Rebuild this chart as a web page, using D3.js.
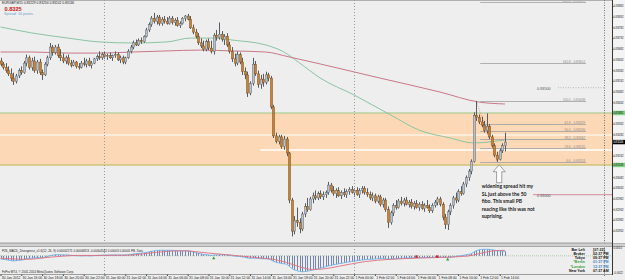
<!DOCTYPE html>
<html><head><meta charset="utf-8">
<script src="https://cdn.jsdelivr.net/npm/d3@7/dist/d3.min.js"></script>
<style>html,body{margin:0;padding:0;background:#eeeeee;}svg{display:block;}</style>
</head><body>
<svg id="c" width="625" height="280"></svg>
<script>
// ---------- DATA (EURGBP, M15) ----------
const timeLabels = ["30 Jan 2012","30 Jan 16:00","30 Jan 18:00","30 Jan 20:00","30 Jan 22:00","31 Jan 00:00","31 Jan 02:00","31 Jan 04:00","31 Jan 06:00","31 Jan 08:00","31 Jan 10:00","31 Jan 12:00","31 Jan 14:00","31 Jan 16:00","31 Jan 18:00","31 Jan 20:00","31 Jan 22:00","1 Feb 00:00","1 Feb 02:00","1 Feb 04:00","1 Feb 06:00","1 Feb 08:00","1 Feb 10:00","1 Feb 12:00","1 Feb 14:00"];
const timeLabelBars = [0,8,16,24,32,40,48,56,64,72,80,88,96,104,112,120,128,136,144,152,160,168,176,184,192];
const daySeparatorBars = [40,136];
const open = [0.83625,0.83610,0.83595,0.83580,0.83565,0.83545,0.83530,0.83555,0.83580,0.83570,
0.83615,0.83640,0.83595,0.83625,0.83580,0.83620,0.83570,0.83560,0.83610,0.83640,
0.83690,0.83665,0.83690,0.83650,0.83640,0.83625,0.83640,0.83615,0.83605,0.83620,
0.83600,0.83595,0.83615,0.83610,0.83625,0.83605,0.83615,0.83635,0.83645,0.83640,
0.83655,0.83645,0.83650,0.83640,0.83650,0.83655,0.83630,0.83640,0.83620,0.83640,
0.83670,0.83690,0.83710,0.83700,0.83720,0.83715,0.83740,0.83770,0.83795,0.83825,
0.83810,0.83830,0.83800,0.83820,0.83810,0.83800,0.83825,0.83805,0.83815,0.83790,
0.83800,0.83825,0.83835,0.83820,0.83780,0.83760,0.83740,0.83710,0.83695,0.83680,
0.83715,0.83685,0.83670,0.83745,0.83735,0.83750,0.83725,0.83740,0.83700,0.83670,
0.83635,0.83615,0.83655,0.83620,0.83575,0.83560,0.83475,0.83520,0.83610,0.83565,
0.83515,0.83540,0.83525,0.83560,0.83545,0.83410,0.83275,0.83250,0.83270,0.83225,
0.83260,0.83195,0.82975,0.82830,0.82880,0.82870,0.82840,0.82910,0.82945,0.82930,
0.82980,0.82995,0.82985,0.83005,0.82990,0.83000,0.83010,0.83045,0.83020,0.83005,
0.83020,0.82995,0.83010,0.83000,0.83015,0.83025,0.83010,0.83020,0.83000,0.83020,
0.83030,0.83010,0.83000,0.82985,0.82995,0.82970,0.82990,0.82955,0.82975,0.82930,
0.82870,0.82915,0.82950,0.82940,0.82970,0.82960,0.82975,0.82955,0.82965,0.82945,
0.82960,0.82940,0.82955,0.82935,0.82950,0.82940,0.82925,0.82950,0.82965,0.82980,
0.82955,0.82895,0.82860,0.82920,0.82950,0.82985,0.82975,0.83015,0.83005,0.83050,
0.83080,0.83110,0.83155,0.83370,0.83360,0.83340,0.83325,0.83300,0.83320,0.83270,
0.83230,0.83185,0.83165,0.83205,0.83229];
const high = [0.83640,0.83620,0.83615,0.83600,0.83590,0.83570,0.83565,0.83590,0.83600,0.83625,
0.83655,0.83650,0.83640,0.83645,0.83630,0.83635,0.83585,0.83620,0.83650,0.83709,
0.83700,0.83700,0.83705,0.83680,0.83660,0.83650,0.83655,0.83630,0.83630,0.83625,
0.83615,0.83625,0.83640,0.83635,0.83640,0.83625,0.83640,0.83655,0.83670,0.83665,
0.83670,0.83660,0.83665,0.83655,0.83670,0.83665,0.83650,0.83650,0.83645,0.83680,
0.83700,0.83720,0.83725,0.83730,0.83735,0.83745,0.83780,0.83805,0.83835,0.83850,
0.83840,0.83840,0.83830,0.83835,0.83830,0.83835,0.83835,0.83825,0.83830,0.83810,
0.83830,0.83840,0.83845,0.83835,0.83795,0.83775,0.83755,0.83730,0.83720,0.83725,
0.83730,0.83720,0.83755,0.83770,0.83805,0.83765,0.83750,0.83755,0.83715,0.83690,
0.83660,0.83670,0.83665,0.83640,0.83595,0.83575,0.83530,0.83640,0.83625,0.83580,
0.83560,0.83565,0.83575,0.83570,0.83555,0.83420,0.83290,0.83280,0.83280,0.83275,
0.83270,0.83200,0.82985,0.82900,0.82940,0.82890,0.82920,0.82960,0.82985,0.82990,
0.83010,0.83020,0.83015,0.83020,0.83015,0.83020,0.83060,0.83055,0.83040,0.83030,
0.83035,0.83020,0.83030,0.83025,0.83035,0.83040,0.83030,0.83035,0.83030,0.83040,
0.83040,0.83030,0.83015,0.83010,0.83005,0.83000,0.83000,0.82985,0.82985,0.82945,
0.82925,0.82960,0.82975,0.82980,0.82990,0.82985,0.82990,0.82975,0.82980,0.82970,
0.82975,0.82965,0.82970,0.82960,0.82975,0.82955,0.82960,0.82975,0.82990,0.82990,
0.82965,0.82910,0.82930,0.82960,0.82995,0.83010,0.83025,0.83040,0.83060,0.83090,
0.83120,0.83165,0.83385,0.83438,0.83375,0.83365,0.83345,0.83380,0.83330,0.83280,
0.83240,0.83200,0.83215,0.83240,0.83290];
const low = [0.83600,0.83585,0.83570,0.83555,0.83530,0.83513,0.83520,0.83545,0.83560,0.83565,
0.83600,0.83585,0.83580,0.83570,0.83565,0.83560,0.83536,0.83555,0.83600,0.83630,
0.83650,0.83655,0.83640,0.83625,0.83615,0.83610,0.83605,0.83595,0.83600,0.83590,
0.83585,0.83590,0.83600,0.83595,0.83600,0.83590,0.83610,0.83625,0.83630,0.83630,
0.83635,0.83630,0.83635,0.83625,0.83640,0.83625,0.83615,0.83610,0.83610,0.83635,
0.83660,0.83680,0.83695,0.83695,0.83705,0.83710,0.83735,0.83760,0.83785,0.83800,
0.83795,0.83790,0.83790,0.83800,0.83795,0.83795,0.83795,0.83790,0.83785,0.83780,
0.83795,0.83810,0.83815,0.83775,0.83750,0.83730,0.83700,0.83685,0.83670,0.83670,
0.83675,0.83660,0.83655,0.83720,0.83725,0.83715,0.83700,0.83690,0.83660,0.83620,
0.83600,0.83605,0.83610,0.83560,0.83540,0.83457,0.83465,0.83510,0.83555,0.83500,
0.83495,0.83505,0.83515,0.83530,0.83400,0.83265,0.83240,0.83235,0.83215,0.83210,
0.83180,0.82960,0.82805,0.82815,0.82850,0.82820,0.82830,0.82895,0.82920,0.82925,
0.82960,0.82975,0.82975,0.82980,0.82975,0.82985,0.83000,0.83010,0.82995,0.82985,
0.82990,0.82980,0.82990,0.82985,0.83000,0.83005,0.82990,0.82995,0.82985,0.83005,
0.83000,0.82990,0.82975,0.82970,0.82960,0.82960,0.82945,0.82940,0.82920,0.82845,
0.82860,0.82900,0.82930,0.82935,0.82950,0.82945,0.82950,0.82940,0.82935,0.82930,
0.82935,0.82925,0.82930,0.82920,0.82935,0.82915,0.82915,0.82940,0.82950,0.82945,
0.82880,0.82840,0.82835,0.82905,0.82935,0.82960,0.82965,0.82995,0.83000,0.83035,
0.83065,0.83095,0.83150,0.83345,0.83330,0.83315,0.83290,0.83285,0.83260,0.83220,
0.83175,0.83153,0.83160,0.83195,0.83202];
const close = [0.83610,0.83595,0.83580,0.83565,0.83545,0.83530,0.83555,0.83580,0.83570,0.83615,
0.83640,0.83595,0.83625,0.83580,0.83620,0.83570,0.83560,0.83610,0.83640,0.83690,
0.83665,0.83690,0.83650,0.83640,0.83625,0.83640,0.83615,0.83605,0.83620,0.83600,
0.83595,0.83615,0.83610,0.83625,0.83605,0.83615,0.83635,0.83645,0.83640,0.83655,
0.83645,0.83650,0.83640,0.83650,0.83655,0.83630,0.83640,0.83620,0.83640,0.83670,
0.83690,0.83710,0.83700,0.83720,0.83715,0.83740,0.83770,0.83795,0.83825,0.83810,
0.83830,0.83800,0.83820,0.83810,0.83800,0.83825,0.83805,0.83815,0.83790,0.83800,
0.83825,0.83835,0.83820,0.83780,0.83760,0.83740,0.83710,0.83695,0.83680,0.83715,
0.83685,0.83670,0.83745,0.83735,0.83750,0.83725,0.83740,0.83700,0.83670,0.83635,
0.83615,0.83655,0.83620,0.83575,0.83560,0.83475,0.83520,0.83610,0.83565,0.83515,
0.83540,0.83525,0.83560,0.83545,0.83410,0.83275,0.83250,0.83270,0.83225,0.83260,
0.83195,0.82975,0.82830,0.82880,0.82870,0.82840,0.82910,0.82945,0.82930,0.82980,
0.82995,0.82985,0.83005,0.82990,0.83000,0.83010,0.83045,0.83020,0.83005,0.83020,
0.82995,0.83010,0.83000,0.83015,0.83025,0.83010,0.83020,0.83000,0.83020,0.83030,
0.83010,0.83000,0.82985,0.82995,0.82970,0.82990,0.82955,0.82975,0.82930,0.82870,
0.82915,0.82950,0.82940,0.82970,0.82960,0.82975,0.82955,0.82965,0.82945,0.82960,
0.82940,0.82955,0.82935,0.82950,0.82940,0.82925,0.82950,0.82965,0.82980,0.82955,
0.82895,0.82860,0.82920,0.82950,0.82985,0.82975,0.83015,0.83005,0.83050,0.83080,
0.83110,0.83155,0.83370,0.83360,0.83340,0.83325,0.83300,0.83320,0.83270,0.83230,
0.83185,0.83165,0.83205,0.83229,0.83246];
// moving averages (read at sampled bars)
const maGreenBars = [0,12,26,38,51,64,73,83,89,102,109,115,123,136,150,161,173,182,194];
const maGreenVals = [0.83784,0.83756,0.83732,0.83714,0.83709,0.83714,0.83732,0.83732,0.83723,0.83700,0.83667,0.83616,0.83545,0.83466,0.83373,0.83302,0.83265,0.83242,0.83256];
const maRedBars = [0,12,26,38,51,64,77,89,102,111,123,146,169,184,194];
const maRedVals = [0.83667,0.83667,0.83662,0.83662,0.83667,0.83672,0.83676,0.83672,0.83667,0.83644,0.83611,0.83545,0.83480,0.83433,0.83424];
// price axis
const priceTicks = [0.83882,0.83832,0.83782,0.83732,0.83682,0.83632,0.83582,0.83532,0.83482,0.83432,0.83332,0.83282,0.83182,0.83082,0.83032,0.82982,0.82932,0.82882,0.82832];
// drawn objects
const bandTop = 0.83382, bandBottom = 0.83139;
const whiteLineA = 0.83279, whiteLineB = 0.83209, whiteLineBStartBar = 100;
const fibLevels = ["0.0","23.6","38.2","50.0","61.8","100.0","161.8","261.8"];
const fibPrices = [0.83153,0.83220,0.83262,0.83296,0.83329,0.83438,0.83614,0.83899];
const fibStartBar = 184.5, fibAnchorHighBar = 183, fibAnchorLowBar = 191;
const hLine835 = 0.83500, hLine830 = 0.83000;
const bidPrice = 0.83246;
const vLineBar = 232;
// MACD indicator
const macdHist = [-0.00040,-0.00045,-0.00050,-0.00055,-0.00060,-0.00065,-0.00062,-0.00058,-0.00055,-0.00048,
-0.00038,-0.00035,-0.00030,-0.00028,-0.00022,-0.00022,-0.00025,-0.00018,-0.00010,0.00002,
0.00008,0.00014,0.00015,0.00014,0.00012,0.00012,0.00010,0.00007,0.00004,0.00002,
0.00000,0.00000,0.00000,0.00001,0.00000,0.00000,0.00002,0.00004,0.00006,0.00008,
0.00009,0.00010,0.00010,0.00011,0.00012,0.00011,0.00010,0.00009,0.00009,0.00012,
0.00017,0.00023,0.00027,0.00031,0.00034,0.00038,0.00043,0.00050,0.00058,0.00063,
0.00068,0.00070,0.00071,0.00072,0.00071,0.00071,0.00070,0.00069,0.00066,0.00064,
0.00063,0.00064,0.00063,0.00058,0.00050,0.00042,0.00034,0.00026,0.00018,0.00014,
0.00010,0.00006,0.00008,0.00010,0.00013,0.00014,0.00014,0.00012,0.00008,0.00002,
-0.00004,-0.00006,-0.00009,-0.00014,-0.00019,-0.00028,-0.00032,-0.00030,-0.00031,-0.00034,
-0.00036,-0.00038,-0.00038,-0.00040,-0.00052,-0.00070,-0.00082,-0.00090,-0.00098,-0.00102,
-0.00108,-0.00130,-0.00162,-0.00180,-0.00190,-0.00200,-0.00204,-0.00202,-0.00196,-0.00190,
-0.00182,-0.00175,-0.00166,-0.00158,-0.00150,-0.00142,-0.00130,-0.00122,-0.00116,-0.00108,
-0.00102,-0.00096,-0.00090,-0.00084,-0.00078,-0.00072,-0.00068,-0.00063,-0.00058,-0.00054,
-0.00050,-0.00047,-0.00045,-0.00043,-0.00040,-0.00038,-0.00037,-0.00035,-0.00036,-0.00042,
-0.00042,-0.00040,-0.00038,-0.00035,-0.00032,-0.00030,-0.00028,-0.00027,-0.00026,-0.00025,
-0.00024,-0.00024,-0.00023,-0.00022,-0.00022,-0.00022,-0.00020,-0.00018,-0.00015,-0.00014,
-0.00018,-0.00022,-0.00022,-0.00018,-0.00013,-0.00008,-0.00003,0.00001,0.00006,0.00012,
0.00018,0.00026,0.00048,0.00066,0.00076,0.00082,0.00084,0.00084,0.00082,0.00078,
0.00072,0.00066,0.00062,0.00060,0.00058];
const signalBars = [0,10,20,30,40,50,60,70,80,90,100,105,110,115,120,125,130,140,150,160,170,180,185,190,194];
const signalVals = [-0.00030,-0.00045,-0.00015,0.00005,0.00005,0.00010,0.00045,0.00065,0.00035,0.00005,-0.00028,-0.00045,-0.00085,-0.00140,-0.00175,-0.00165,-0.00135,-0.00075,-0.00045,-0.00030,-0.00020,-0.00002,0.00035,0.00065,0.00070];
const divMarkBars = [82,160,168,172];
const divMarkVals = [-0.00030,-0.00010,-0.00010,-0.00045];
const divMarkKind = ["bull","bear","bear","bull"];
const indTicks = [0.0010,-0.0022];
const infoLabels = ["Bar Left","Broker","Tokyo","*Berlin","*London","New York"];
const infoValues = ["[07:22]","02:37 PM","09:37 PM","01:37 PM","12:37 PM","07:37 AM"];
const infoColors = ["#111","#111","#111","#3aa03a","#3aa03a","#111"];
const infoValColors = ["#111","#111","#111","#3b7fc4","#3b7fc4","#111"];
const noteLines = ["widening spread hit my","SL just above the 50","fibo. This small PB","reacing like this was not","suprising."];

// ---------- DRAW ----------
const W = 625, H = 280, RIGHT = 612, MAIN_BOTTOM = 243;
const svg = d3.select("#c");
const x = d3.scaleLinear().domain([0, 194]).range([0.5, 504.9]);
const y = d3.scaleLinear().domain([0.82807, 0.83910]).range([236, 0]);
const yi = d3.scaleLinear().domain([-0.0022, 0.0010]).range([273, 248]);
const font = "'Liberation Sans', Arial, sans-serif";

svg.append("rect").attr("width", W).attr("height", H).attr("fill", "#eeeeee");
svg.append("defs").append("clipPath").attr("id", "mainClip").append("rect")
  .attr("x", 0).attr("y", 0).attr("width", RIGHT).attr("height", MAIN_BOTTOM);
const main = svg.append("g").attr("clip-path", "url(#mainClip)");

// orange zone
main.append("rect").attr("x", 0).attr("width", RIGHT)
  .attr("y", y(bandTop)).attr("height", y(bandBottom) - y(bandTop)).attr("fill", "#fcd8b6");
main.append("line").attr("x1", 0).attr("x2", RIGHT).attr("y1", y(bandTop)).attr("y2", y(bandTop))
  .attr("stroke", "#9cc88a").attr("stroke-width", 1);
main.append("line").attr("x1", 0).attr("x2", RIGHT).attr("y1", y(bandBottom)).attr("y2", y(bandBottom))
  .attr("stroke", "#cfc47a").attr("stroke-width", 1.5);
main.append("line").attr("x1", 0).attr("x2", RIGHT).attr("y1", y(whiteLineA)).attr("y2", y(whiteLineA))
  .attr("stroke", "#ffffff").attr("stroke-width", 1);
main.append("line").attr("x1", x(whiteLineBStartBar)).attr("x2", RIGHT).attr("y1", y(whiteLineB)).attr("y2", y(whiteLineB))
  .attr("stroke", "#ffffff").attr("stroke-width", 1.6);

// top border
svg.append("line").attr("x1", 0).attr("x2", RIGHT).attr("y1", 0.5).attr("y2", 0.5).attr("stroke", "#b0b0b0");

// day separators
daySeparatorBars.forEach(b => {
  svg.append("line").attr("x1", Math.round(x(b)) + 0.5).attr("x2", Math.round(x(b)) + 0.5)
    .attr("y1", 0).attr("y2", 274).attr("stroke", "#9a9a9a").attr("stroke-dasharray", "1,2");
});
// vertical dashed object line
svg.append("line").attr("x1", Math.round(x(vLineBar)) + 0.5).attr("x2", Math.round(x(vLineBar)) + 0.5)
  .attr("y1", 0).attr("y2", 276).attr("stroke", "#777").attr("stroke-dasharray", "1,1.5");

// moving averages
const maLine = d3.line().x(d => x(d[0])).y(d => y(d[1])).curve(d3.curveMonotoneX);
main.append("path").attr("d", maLine(maGreenBars.map((b, i) => [b, maGreenVals[i]])))
  .attr("fill", "none").attr("stroke", "#8cc4a2").attr("stroke-width", 1);
main.append("path").attr("d", maLine(maRedBars.map((b, i) => [b, maRedVals[i]])))
  .attr("fill", "none").attr("stroke", "#c97888").attr("stroke-width", 1);

// fibonacci
fibPrices.forEach((p, k) => {
  main.append("line").attr("x1", x(fibStartBar)).attr("x2", 586)
    .attr("y1", Math.round(y(p)) + 0.5).attr("y2", Math.round(y(p)) + 0.5)
    .attr("stroke", "#a0a0a0").attr("stroke-width", 0.8);
  main.append("text").attr("x", 585).attr("y", Math.round(y(p)) - 0.3)
    .attr("text-anchor", "end").attr("font-family", font).attr("font-size", 3.2)
    .attr("fill", "#8a8a8a").text(fibLevels[k] + " - " + p.toFixed(5));
});
main.append("line").attr("x1", x(fibAnchorHighBar)).attr("y1", y(fibPrices[5]))
  .attr("x2", x(fibAnchorLowBar)).attr("y2", y(fibPrices[0]))
  .attr("stroke", "#d08080").attr("stroke-width", 0.8).attr("stroke-dasharray", "1,1.5");

// horizontal lines 0.835 / 0.830
main.append("line").attr("x1", 558).attr("x2", x(vLineBar)).attr("y1", y(hLine835)).attr("y2", y(hLine835))
  .attr("stroke", "#aaa").attr("stroke-dasharray", "1,1.5").attr("stroke-width", 0.8);
main.append("text").attr("x", 537).attr("y", y(hLine835) + 2.5).attr("font-family", font)
  .attr("font-size", 3.8).attr("fill", "#555").text(hLine835.toFixed(5));
main.append("line").attr("x1", 533).attr("x2", RIGHT).attr("y1", y(hLine830)).attr("y2", y(hLine830))
  .attr("stroke", "#d68a9a").attr("stroke-width", 1);
main.append("text").attr("x", 537).attr("y", y(hLine830) + 1.8).attr("font-family", font)
  .attr("font-size", 3.8).attr("fill", "#555").text(hLine830.toFixed(5));

// candles
const idx = d3.range(close.length);
const cg = main.append("g");
cg.selectAll("line.w").data(idx).join("line")
  .attr("x1", i => Math.round(x(i)) + 0.5).attr("x2", i => Math.round(x(i)) + 0.5)
  .attr("y1", i => y(high[i])).attr("y2", i => y(low[i]))
  .attr("stroke", "#555c63").attr("stroke-width", 1);
cg.selectAll("rect.b").data(idx).join("rect")
  .attr("x", i => Math.round(x(i)) - 0.5).attr("width", 2)
  .attr("y", i => y(Math.max(open[i], close[i])))
  .attr("height", i => Math.max(0.8, Math.abs(y(open[i]) - y(close[i]))))
  .attr("fill", i => close[i] >= open[i] ? "#b9c1c9" : "#c88233")
  .attr("stroke", i => close[i] >= open[i] ? "#5d656d" : "#7a4c1c").attr("stroke-width", 0.5);

// arrow annotation
const ax = x(191.8), ay = y(0.83140);
main.append("path")
  .attr("d", `M${ax},${ay} L${ax + 6},${ay + 7} L${ax + 2.6},${ay + 7} L${ax + 2.6},${ay + 18} L${ax - 2.6},${ay + 18} L${ax - 2.6},${ay + 7} L${ax - 6},${ay + 7} Z`)
  .attr("fill", "#ffffff").attr("stroke", "#777").attr("stroke-width", 0.7);
const note = main.append("text").attr("font-family", "Lato, 'Open Sans', sans-serif")
  .attr("font-weight", 700).attr("font-size", 5).attr("fill", "#1a1a1a");
noteLines.forEach((t, k) => {
  note.append("tspan").attr("x", x(184.5) + 1.5).attr("y", y(0.83045) + 3 + k * 7.6).text(t);
});

// header
svg.append("text").attr("x", 2).attr("y", 4.2).attr("font-family", font).attr("font-size", 3.3)
  .attr("fill", "#222").text("EURGBP,M15  0.83229 0.83234 0.83202 0.83246");
svg.append("text").attr("x", 4.5).attr("y", 10.6).attr("font-family", font).attr("font-size", 5.6)
  .attr("font-weight", 700).attr("fill", "#cc1111").text(bidPrice.toFixed(4));
svg.append("text").attr("x", 4).attr("y", 15.2).attr("font-family", font).attr("font-size", 3.7)
  .attr("fill", "#6c9fd2").text("Spread: 16 points.");

// panel separator
svg.append("rect").attr("x", 0).attr("y", 243).attr("width", W).attr("height", 3.5).attr("fill", "#cfcfcf");
svg.append("line").attr("x1", 0).attr("x2", W).attr("y1", 243).attr("y2", 243).attr("stroke", "#8a8a8a").attr("stroke-width", 0.8);
svg.append("line").attr("x1", 0).attr("x2", W).attr("y1", 246.5).attr("y2", 246.5).attr("stroke", "#9a9a9a").attr("stroke-width", 0.8);

// indicator
const ind = svg.append("g");
ind.append("line").attr("x1", 0).attr("x2", RIGHT).attr("y1", yi(0)).attr("y2", yi(0))
  .attr("stroke", "#7fb27f").attr("stroke-dasharray", "1,1").attr("stroke-width", 0.6);
ind.selectAll("line.h").data(idx).join("line")
  .attr("x1", i => Math.round(x(i)) + 0.5).attr("x2", i => Math.round(x(i)) + 0.5)
  .attr("y1", yi(0)).attr("y2", i => yi(macdHist[i]))
  .attr("stroke", "#6677a6").attr("stroke-width", 0.9);
ind.append("path").attr("d", d3.line().x(i => x(i)).y(i => yi(macdHist[i]))(idx))
  .attr("fill", "none").attr("stroke", "#6fb0e6").attr("stroke-width", 0.9);
ind.append("path").attr("d", d3.line().x(d => x(d[0])).y(d => yi(d[1])).curve(d3.curveMonotoneX)(signalBars.map((b, i) => [b, signalVals[i]])))
  .attr("fill", "none").attr("stroke", "#df6f7f").attr("stroke-width", 0.9);
divMarkBars.forEach((b, k) => {
  const cx = x(b), cy = yi(divMarkVals[k]);
  if (divMarkKind[k] === "bull")
    ind.append("path").attr("d", `M${cx},${cy - 1.6} L${cx + 1.6},${cy + 1.2} L${cx - 1.6},${cy + 1.2} Z`).attr("fill", "#2e9a3a");
  else
    ind.append("rect").attr("x", cx - 1.2).attr("y", cy - 1.2).attr("width", 2.4).attr("height", 2.4).attr("fill", "#cc2222");
});
svg.append("text").attr("x", 2).attr("y", 251.5).attr("font-family", font).attr("font-size", 3)
  .attr("fill", "#222").text("PZ6_MACD_Divergence_v1.6(12, 26, 9) 0.00002271 0.00006813 -0.00004542 0.00003 0.00001 PB. Dots");
svg.append("text").attr("x", 2).attr("y", 272.6).attr("font-family", font).attr("font-size", 3)
  .attr("fill", "#222").text("FxPro MT4, \u00a9 2001-2014 MetaQuotes Software Corp.");

// bottom time axis
svg.append("line").attr("x1", 0).attr("x2", RIGHT).attr("y1", 274.5).attr("y2", 274.5).attr("stroke", "#888").attr("stroke-width", 0.8);
const tAxis = svg.append("g").attr("transform", "translate(0,274.5)")
  .call(d3.axisBottom(x).tickValues(timeLabelBars).tickFormat((d, i) => timeLabels[i]).tickSize(1.5).tickSizeOuter(0));
tAxis.select(".domain").remove();
tAxis.selectAll("line").attr("stroke", "#444");
tAxis.selectAll("text").attr("text-anchor", "start").attr("dx", 0.8).attr("dy", 0).attr("y", 4.6)
  .attr("font-family", font).attr("font-size", 3.4).attr("fill", "#222");

// right price axis
svg.append("rect").attr("x", RIGHT).attr("y", 0).attr("width", W - RIGHT).attr("height", 243).attr("fill", "#f4f4f4");
svg.append("line").attr("x1", RIGHT + 0.5).attr("x2", RIGHT + 0.5).attr("y1", 0).attr("y2", 275).attr("stroke", "#333").attr("stroke-width", 1);
const pAxis = svg.append("g").attr("transform", `translate(${RIGHT + 0.5},0)`)
  .call(d3.axisRight(y).tickValues(priceTicks).tickFormat(d3.format(".5f")).tickSize(1).tickSizeOuter(0));
pAxis.select(".domain").remove();
pAxis.selectAll("line").attr("stroke", "#333");
pAxis.selectAll("text").attr("x", 1.3).attr("font-family", font).attr("font-size", 2.8)
  .attr("letter-spacing", -0.05).attr("fill", "#222");
// highlighted price labels
[[bandTop, "#7fd27f", "#111"], [bandBottom, "#7fd27f", "#111"], [bidPrice, "#000000", "#ffffff"]].forEach(([p, bg, fg]) => {
  svg.append("rect").attr("x", RIGHT + 1).attr("y", y(p) - 2.2).attr("width", W - RIGHT - 1).attr("height", 4.4).attr("fill", bg);
  svg.append("text").attr("x", RIGHT + 1.4).attr("y", y(p) + 1).attr("font-family", font).attr("font-size", 2.8)
    .attr("letter-spacing", -0.05).attr("fill", fg).text(p.toFixed(5));
});
// indicator axis labels
svg.append("text").attr("x", RIGHT + 1.4).attr("y", yi(indTicks[0]) + 1).attr("font-family", font).attr("font-size", 2.8).attr("fill", "#222").text(indTicks[0].toFixed(4));
svg.append("text").attr("x", RIGHT + 1.4).attr("y", yi(indTicks[1]) + 1).attr("font-family", font).attr("font-size", 2.8).attr("fill", "#222").text(indTicks[1].toFixed(4));

// info box
infoLabels.forEach((t, k) => {
  const yy = 250.5 + k * 4.3;
  svg.append("text").attr("x", 585).attr("y", yy).attr("text-anchor", "end").attr("font-family", font)
    .attr("font-weight", 700).attr("font-size", 3.6).attr("fill", infoColors[k]).text(t);
  svg.append("text").attr("x", 593).attr("y", yy).attr("font-family", font)
    .attr("font-weight", 700).attr("font-size", 3.6).attr("fill", infoValColors[k]).text(infoValues[k]);
});
</script>
</body></html>
